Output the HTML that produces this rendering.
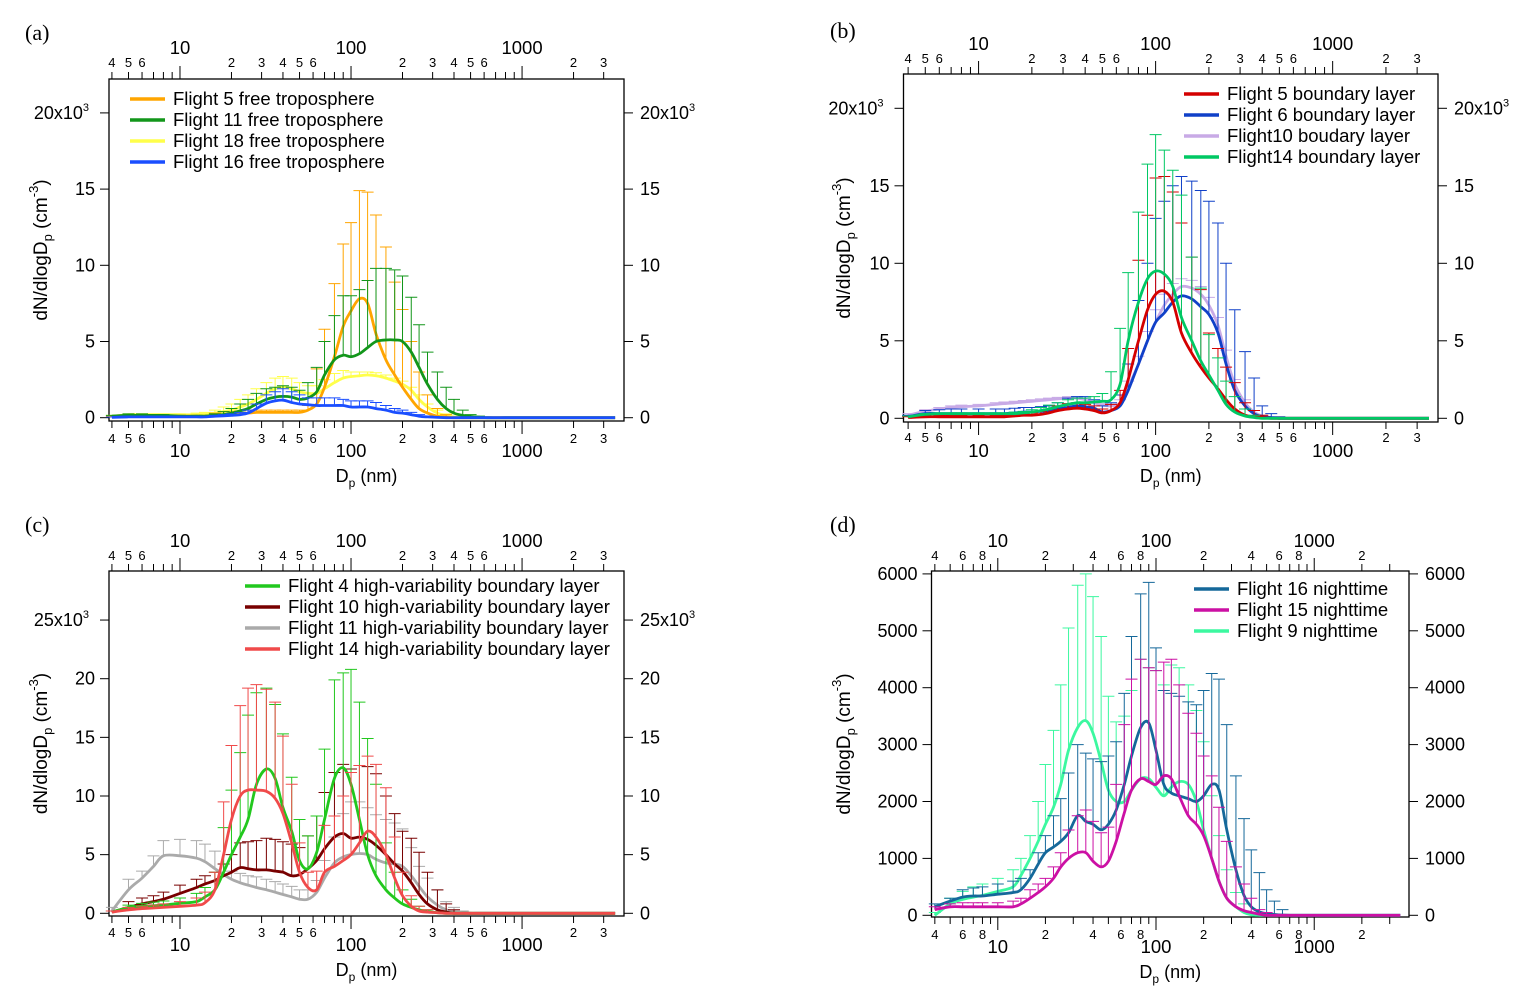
<!DOCTYPE html>
<html><head><meta charset="utf-8"><style>
body{margin:0;background:#fff}
svg text{font-family:"Liberation Sans",Arial,sans-serif;fill:#000}
</style></head><body>
<svg id="chart" width="1527" height="1003" viewBox="0 0 1527 1003" xmlns="http://www.w3.org/2000/svg"></svg>
<script>
// Shared diameter grid (nm)
const D=[4,5,6,7,8,10,12.5,14,16,18,20,22.5,25,28,32,36,40,45,50,56,63,70,80,90,100,112,125,140,160,180,200,225,250,280,320,360,400,450,500,560,630,800,1000,2000,3500];
// Panel a (x10^3 cm-3)
const a5=[0.05,0.1,0.1,0.1,0.1,0.1,0.1,0.1,0.15,0.2,0.2,0.25,0.3,0.35,0.35,0.35,0.35,0.35,0.35,0.5,0.9,2.0,4.0,6.0,7.0,7.8,7.5,5.5,3.8,2.8,2.0,1.2,0.6,0.3,0.1,0.05,0,0,0,0,0,0,0,0,0];
const a5err=[0.1,0.15,0.15,0.15,0.15,0.15,0.15,0.15,0.3,0.4,0.4,0.45,0.5,0.5,0.5,0.5,0.5,0.5,0.5,0.8,3.2,5.8,8.8,11.4,12.8,14.9,14.8,13.3,11.2,8.9,7.1,5.0,3.0,1.5,0.6,0.2,0.05,0,0,0,0,0,0,0,0];
const a11=[0.1,0.15,0.15,0.15,0.15,0.1,0.1,0.1,0.15,0.2,0.3,0.45,0.6,0.9,1.2,1.35,1.4,1.35,1.2,1.3,1.7,2.8,3.8,4.1,4.0,4.2,4.6,5.0,5.1,5.1,5.0,4.3,3.3,2.2,1.2,0.6,0.3,0.15,0.08,0.03,0,0,0,0,0];
const a11err=[0.15,0.25,0.25,0.2,0.2,0.15,0.15,0.15,0.25,0.4,0.6,0.9,1.2,1.6,1.9,2.0,2.1,2.0,1.8,2.3,3.3,5.0,6.7,8.0,8.0,8.4,9.0,9.8,9.8,9.7,9.3,7.9,6.1,4.3,3.0,2.0,1.2,0.5,0.2,0.1,0,0,0,0,0];
const a18=[0.1,0.2,0.2,0.2,0.2,0.2,0.2,0.25,0.3,0.4,0.5,0.7,0.9,1.2,1.6,1.9,2.0,1.9,1.7,1.6,1.6,1.9,2.3,2.6,2.7,2.75,2.8,2.75,2.6,2.4,2.2,1.8,1.2,0.7,0.3,0.15,0.05,0,0,0,0,0,0,0,0];
const a18err=[0.15,0.25,0.25,0.25,0.25,0.25,0.3,0.35,0.5,0.7,0.9,1.2,1.5,1.9,2.3,2.6,2.7,2.6,2.3,2.1,2.1,2.5,2.9,3.1,3.0,3.0,3.0,2.95,2.8,2.6,2.4,2.0,1.5,0.9,0.5,0.25,0.1,0,0,0,0,0,0,0,0];
const a16=[0.02,0.05,0.05,0.05,0.05,0.05,0.05,0.05,0.1,0.12,0.15,0.2,0.3,0.6,0.95,1.1,1.15,1.0,0.9,0.85,0.8,0.8,0.8,0.8,0.7,0.7,0.7,0.6,0.5,0.35,0.3,0.2,0.1,0.05,0.02,0,0,0,0,0,0,0,0,0,0];
const a16err=[0.05,0.1,0.1,0.1,0.1,0.1,0.1,0.1,0.15,0.2,0.25,0.35,0.5,0.9,1.5,1.7,1.9,1.7,1.5,1.3,1.3,1.3,1.3,1.2,1.1,1.1,1.1,1.0,0.8,0.6,0.5,0.35,0.2,0.1,0.05,0,0,0,0,0,0,0,0,0,0];
// Panel b
const b5=[0.05,0.1,0.1,0.1,0.1,0.1,0.1,0.1,0.15,0.2,0.2,0.25,0.35,0.5,0.6,0.65,0.6,0.5,0.35,0.5,1.0,2.5,5.0,7.0,8.0,8.2,7.5,5.5,4.2,3.3,2.6,1.9,1.2,0.6,0.2,0.1,0.05,0,0,0,0,0,0,0,0];
const b5err=[0.1,0.2,0.2,0.2,0.2,0.2,0.2,0.2,0.25,0.3,0.35,0.45,0.6,0.8,0.95,1.0,0.9,0.8,0.6,0.9,1.8,4.5,10.2,13.1,15.5,15.6,14.6,12.6,10.4,8.3,5.5,4.5,3.3,2.3,1.0,0.5,0.2,0,0,0,0,0,0,0,0];
const b6=[0.1,0.3,0.3,0.3,0.3,0.3,0.3,0.3,0.35,0.4,0.4,0.45,0.5,0.6,0.7,0.8,0.75,0.65,0.4,0.5,0.8,1.8,3.5,5.0,6.2,6.8,7.5,7.9,7.7,7.2,6.7,5.5,3.5,1.8,0.8,0.3,0.1,0.05,0,0,0,0,0,0,0];
const b6err=[0.2,0.5,0.55,0.6,0.6,0.6,0.6,0.6,0.65,0.7,0.7,0.75,0.8,1.0,1.3,1.4,1.4,1.2,0.8,1.0,1.5,3.5,7.6,10.0,12.9,14.0,15.0,15.6,15.3,14.7,14.0,12.6,10.0,7.0,4.3,2.6,0.8,0.3,0.1,0,0,0,0,0,0];
const b10=[0.2,0.45,0.6,0.7,0.75,0.8,0.9,0.95,1.0,1.05,1.1,1.15,1.2,1.25,1.3,1.3,1.2,1.0,0.85,0.8,1.0,2.0,3.5,5.0,6.2,7.3,8.0,8.5,8.4,8.0,7.3,6.0,4.0,2.2,1.0,0.4,0.15,0.05,0,0,0,0,0,0,0];
const b10err=[0.3,0.55,0.7,0.8,0.85,0.9,1.0,1.05,1.1,1.15,1.2,1.25,1.3,1.35,1.4,1.4,1.3,1.1,0.95,0.9,1.2,2.4,4.0,5.6,7.0,8.0,8.7,9.0,8.9,8.5,7.8,6.5,4.4,2.5,1.2,0.5,0.2,0.05,0,0,0,0,0,0,0];
const b14=[0.1,0.25,0.3,0.3,0.3,0.3,0.3,0.3,0.3,0.35,0.4,0.5,0.6,0.75,0.9,1.0,1.0,1.05,1.1,1.2,2.2,5.0,7.5,9.0,9.5,9.3,8.5,6.5,5.0,3.7,2.8,1.8,0.9,0.4,0.15,0.05,0,0,0,0,0,0,0,0,0];
const b14err=[0.15,0.3,0.35,0.35,0.35,0.35,0.35,0.35,0.4,0.45,0.55,0.7,0.85,1.0,1.2,1.3,1.3,1.4,1.6,3.0,5.8,9.4,13.3,16.4,18.3,17.3,16.0,14.4,10.4,8.4,5.4,3.9,2.4,1.4,0.6,0.2,0.05,0,0,0,0,0,0,0,0];
// Panel c
const c4=[0.1,0.5,0.6,0.65,0.7,0.85,1.0,1.4,2.0,3.5,5.0,6.5,8.0,11.0,12.3,11.5,9.0,7.0,4.5,3.8,5.2,8.0,11.5,12.4,11.0,8.0,5.0,3.2,2.0,1.3,0.8,0.5,0.3,0.15,0.05,0,0,0,0,0,0,0,0,0,0];
const c4err=[0.2,0.7,0.85,0.95,1.05,1.3,1.7,2.2,3.5,7.3,10.5,13.7,16.9,18.8,19.2,17.8,15.3,11.6,8.0,6.6,8.3,14.0,19.9,20.5,20.8,18.0,14.9,11.0,6.0,3.5,2.0,1.2,0.6,0.3,0.1,0,0,0,0,0,0,0,0,0,0];
const c10=[0.1,0.5,0.8,1.0,1.2,1.7,2.2,2.5,2.8,3.2,3.5,3.9,3.8,3.7,3.7,3.6,3.5,3.2,3.3,3.8,4.5,5.5,6.5,6.8,6.4,6.5,6.3,5.8,5.0,4.2,3.6,2.6,1.6,0.8,0.3,0.1,0,0,0,0,0,0,0,0,0];
const c10err=[0.2,1.0,1.3,1.5,1.8,2.4,2.9,3.2,3.5,4.2,5.0,6.0,6.1,6.2,6.4,6.3,6.1,5.9,5.6,6.6,8.3,10.3,12.0,12.7,12.3,12.6,12.5,11.9,10.0,8.5,7.0,6.4,5.2,3.5,2.0,0.8,0.3,0,0,0,0,0,0,0,0];
const c11=[0.2,2.0,3.0,4.0,4.9,4.9,4.7,4.4,3.8,3.3,2.9,2.6,2.4,2.2,2.0,1.8,1.6,1.4,1.2,1.2,1.8,3.0,4.3,4.8,5.0,5.1,5.0,4.6,4.3,4.2,4.0,3.2,2.3,1.4,0.7,0.3,0.15,0.05,0,0,0,0,0,0,0];
const c11err=[0.5,2.9,3.6,4.9,6.2,6.3,6.2,5.9,5.3,4.2,3.6,3.4,3.2,3.1,2.9,2.7,2.5,2.3,2.0,2.0,2.8,4.5,6.5,8.5,9.5,9.5,9.0,8.4,8.0,7.7,7.2,5.6,4.0,3.0,2.0,1.0,0.5,0.2,0,0,0,0,0,0,0];
const c14=[0.1,0.3,0.4,0.45,0.5,0.6,0.7,0.9,2.0,5.0,8.0,10.0,10.5,10.5,10.4,9.8,8.5,6.0,3.5,2.2,2.0,3.5,4.0,4.5,5.0,6.0,7.0,6.5,5.0,3.0,1.5,0.6,0.2,0.1,0.05,0,0,0,0,0,0,0,0,0,0];
const c14err=[0.2,0.5,0.6,0.7,0.8,1.0,1.3,1.8,3.5,9.5,14.3,17.7,19.2,19.5,19.1,18.0,15.1,11.0,6.0,3.5,3.6,7.5,8.3,10.0,12.0,12.6,13.4,12.7,10.7,6.5,3.5,1.5,0.6,0.3,0.1,0,0,0,0,0,0,0,0,0,0];
// Panel d (cm-3)
const d16=[150,250,320,340,340,370,400,450,650,900,1100,1200,1300,1450,1750,1650,1600,1500,1600,1850,2300,2800,3300,3380,2900,2300,2150,2100,2050,2000,2100,2300,2200,1500,800,350,150,60,30,15,5,0,0,0,0];
const d16err=[200,300,450,480,500,550,600,650,800,1100,1400,1750,2050,2500,3000,2850,2750,2700,2800,3050,3900,4900,5650,5850,4700,3950,3900,3850,3750,3700,3950,4250,4150,3350,2450,1700,1150,750,450,250,100,0,0,0,0];
const d15=[100,150,150,150,150,150,150,200,300,400,500,650,850,1000,1100,1100,950,850,950,1300,1800,2200,2400,2350,2300,2450,2400,2100,1750,1600,1400,1000,600,300,150,80,50,20,0,0,0,0,0,0,0];
const d15err=[150,200,220,220,220,220,250,300,450,550,650,850,1100,1500,1750,1850,1650,1450,1550,2300,3350,4150,4500,4350,4300,4450,4500,4050,3550,3200,2800,2450,1900,1300,850,550,300,100,50,0,0,0,0,0,0];
const d9=[0,200,280,320,350,420,500,700,1000,1300,1600,1900,2300,2900,3300,3420,3200,2700,2200,2000,2000,2200,2400,2400,2250,2100,2250,2350,2300,2000,1500,1000,600,300,150,50,10,0,0,0,0,0,0,0,0];
const d9err=[50,300,420,500,550,650,800,1000,1400,2000,2650,3250,4050,5050,5800,6000,5600,4900,3850,3400,3500,3950,4500,4350,4300,4050,4400,4350,4050,3600,3050,2100,1400,800,400,200,50,0,0,0,0,0,0,0,0];
const yTicksK20=[0,5,10,15,20];
const yTicksK25=[0,5,10,15,20,25];
const yTicksD=[0,1000,2000,3000,4000,5000,6000];

const NS='http://www.w3.org/2000/svg';
const svg=document.getElementById('chart');
function mk(tag,attrs,parent){const e=document.createElementNS(NS,tag);for(const k in attrs)e.setAttribute(k,attrs[k]);(parent||svg).appendChild(e);return e;}

function crPath(pts){
  let s='M'+pts[0][0].toFixed(1)+','+pts[0][1].toFixed(1);
  for(let i=0;i<pts.length-1;i++){
    const p0=pts[i-1]||pts[i],p1=pts[i],p2=pts[i+1],p3=pts[i+2]||p2;
    const c1=[p1[0]+(p2[0]-p0[0])/6,p1[1]+(p2[1]-p0[1])/6];
    const c2=[p2[0]-(p3[0]-p1[0])/6,p2[1]-(p3[1]-p1[1])/6];
    s+='C'+c1[0].toFixed(1)+','+c1[1].toFixed(1)+' '+c2[0].toFixed(1)+','+c2[1].toFixed(1)+' '+p2[0].toFixed(1)+','+p2[1].toFixed(1);
  }
  return s;
}

const panels=[
 {id:'a',label:'(a)',lx:25,ly:40,x0:109,x1:624,lmin:0.585,lmax:3.596,top:79,bot:421,zero:417.7,py:15.24,ticks:yTicksK20,sup:true,
  minorLab:[2,3,4,5,6],topMaj:54,topMin:67,botMin:443,botMaj:457,title:482,ytx:47,
  leg:{x:130,y:99},
  series:[{n:'flight-5-free-troposphere',t:'Flight 5 free troposphere',c:'#ffa500',v:a5,e:a5err},
          {n:'flight-11-free-troposphere',t:'Flight 11 free troposphere',c:'#12961a',v:a11,e:a11err},
          {n:'flight-18-free-troposphere',t:'Flight 18 free troposphere',c:'#ffff4a',v:a18,e:a18err},
          {n:'flight-16-free-troposphere',t:'Flight 16 free troposphere',c:'#1a4eff',v:a16,e:a16err}],
  order:[2,0,1,3]},
 {id:'b',label:'(b)',lx:830,ly:38,x0:903.5,x1:1438,lmin:0.576,lmax:3.595,top:74,bot:422,zero:418.3,py:15.5,ticks:yTicksK20,sup:true,
  minorLab:[2,3,4,5,6],topMaj:50,topMin:63,botMin:442,botMaj:457,title:482,ytx:850,
  leg:{x:1184,y:94},
  series:[{n:'flight-5-boundary-layer',t:'Flight 5 boundary layer',c:'#d40000',v:b5,e:b5err},
          {n:'flight-6-boundary-layer',t:'Flight 6 boundary layer',c:'#1040c8',v:b6,e:b6err},
          {n:'flight-10-boundary-layer',t:'Flight10 boudary layer',c:'#c8aae6',v:b10,e:b10err},
          {n:'flight-14-boundary-layer',t:'Flight14 boundary layer',c:'#00c864',v:b14,e:b14err}],
  order:[2,1,0,3]},
 {id:'c',label:'(c)',lx:25,ly:532,x0:109,x1:624,lmin:0.585,lmax:3.596,top:571,bot:916,zero:913.3,py:11.73,ticks:yTicksK25,sup:true,
  minorLab:[2,3,4,5,6],topMaj:547,topMin:560,botMin:937,botMaj:951,title:976,ytx:47,
  leg:{x:245,y:586},
  series:[{n:'flight-4-high-variability',t:'Flight 4  high-variability boundary layer',c:'#22c81e',v:c4,e:c4err},
          {n:'flight-10-high-variability',t:'Flight 10  high-variability boundary layer',c:'#780000',v:c10,e:c10err},
          {n:'flight-11-high-variability',t:'Flight 11  high-variability boundary layer',c:'#aaaaaa',v:c11,e:c11err},
          {n:'flight-14-high-variability',t:'Flight 14  high-variability boundary layer',c:'#f04a4a',v:c14,e:c14err}],
  order:[2,1,0,3]},
 {id:'d',label:'(d)',lx:830,ly:532,x0:931.5,x1:1409,lmin:0.581,lmax:3.599,top:571,bot:917,zero:915.3,py:0.0569,ticks:yTicksD,sup:false,
  minorLab:[2,4,6,8],topMaj:547,topMin:560,botMin:939,botMaj:953,title:978,ytx:850,
  leg:{x:1194,y:589},
  series:[{n:'flight-16-nighttime',t:'Flight 16 nighttime',c:'#15689a',v:d16,e:d16err},
          {n:'flight-15-nighttime',t:'Flight 15 nighttime',c:'#cc10a4',v:d15,e:d15err},
          {n:'flight-9-nighttime',t:'Flight 9 nighttime',c:'#3cf8a0',v:d9,e:d9err}],
  order:[2,0,1]}
];

panels.forEach(P=>{
  const g=mk('g',{});
  
  
  const X=d=>P.x0+(Math.log10(d)-P.lmin)/(P.lmax-P.lmin)*(P.x1-P.x0);
  const Y=v=>P.zero-v*P.py;
  const pl=mk('text',{x:P.lx,y:P.ly,'font-size':22,style:'font-family:"Liberation Serif",serif'},g);
  
  
  pl.textContent=P.label;
  const fr=mk('rect',{x:P.x0,y:P.top,width:P.x1-P.x0,height:P.bot-P.top,fill:'none',stroke:'#000','stroke-width':1.3},g);
  
  
  for(let dec=0;dec<=3;dec++){
    for(let m=1;m<=9;m++){
      const v=m*Math.pow(10,dec);
      const lv=Math.log10(v);
      if(lv<P.lmin||lv>P.lmax)continue;
      const x=X(v);const major=(m===1);const len=major?13:7;
      const t1=mk('line',{x1:x,x2:x,y1:P.top,y2:P.top-len,stroke:'#000','stroke-width':1},g);
      
      
      const t2=mk('line',{x1:x,x2:x,y1:P.bot,y2:P.bot+len,stroke:'#000','stroke-width':1},g);
      
      
      let lab=null,size=13,ty1=P.topMin,ty2=P.botMin;
      if(major){lab=String(v);size=18.5;ty1=P.topMaj;ty2=P.botMaj;}
      else if(P.minorLab.indexOf(m)>=0 || (dec===0 && P.minorLab.length===5 && m>=4 && m<=6) || (dec===0 && P.minorLab.length===4 && (m===4||m===6||m===8))) lab=String(m);
      if(lab){
        const l1=mk('text',{x:x,y:ty1,'font-size':size,'text-anchor':'middle'},g);
        
        
        l1.textContent=lab;
        const l2=mk('text',{x:x,y:ty2,'font-size':size,'text-anchor':'middle'},g);
        
        
        l2.textContent=lab;
      }
    }
  }
  P.ticks.forEach((v,i)=>{
    const y=Y(v);
    const tl=mk('line',{x1:P.x0,x2:P.x0-9,y1:y,y2:y,stroke:'#000','stroke-width':1},g);
    
    
    const tr=mk('line',{x1:P.x1,x2:P.x1+9,y1:y,y2:y,stroke:'#000','stroke-width':1},g);
    
    
    const last=(P.sup&&i===P.ticks.length-1);
    const ll=mk('text',{x:P.x0-14-(last?6:0),y:y+6,'font-size':18,'text-anchor':'end'},g);
    
    
    const lr=mk('text',{x:P.x1+16,y:y+6,'font-size':18,'text-anchor':'start'},g);
    
    
    [ll,lr].forEach(el=>{
      if(last){
        const a=mk('tspan',{},el);a.textContent=v+'x10';
        const b=mk('tspan',{dy:-8,'font-size':11},el);b.textContent='3';
      } else el.textContent=String(v);
    });
  });
  const cy=(P.top+P.bot)/2;
  const yt=mk('text',{x:0,y:0,'font-size':19,'text-anchor':'middle',transform:'translate('+P.ytx+','+cy+') rotate(-90)'},g);
  
  
  const s1=mk('tspan',{},yt);s1.textContent='dN/dlogD';
  const s2=mk('tspan',{dy:5,'font-size':13},yt);s2.textContent='p';
  const s3=mk('tspan',{dy:-5},yt);s3.textContent=' (cm';
  const s4=mk('tspan',{dy:-9,'font-size':13},yt);s4.textContent='-3';
  const s5=mk('tspan',{dy:9},yt);s5.textContent=')';
  const xt=mk('text',{x:(P.x0+P.x1)/2,y:P.title,'font-size':18,'text-anchor':'middle'},g);
  
  
  const u1=mk('tspan',{},xt);u1.textContent='D';
  const u2=mk('tspan',{dy:5,'font-size':12},xt);u2.textContent='p';
  const u3=mk('tspan',{dy:-5},xt);u3.textContent=' (nm)';
  P.order.forEach(si=>{
    const S=P.series[si];
    const sg=mk('g',{},g);
    
    
    D.forEach((d,i)=>{
      const v=S.v[i]||0,e=S.e[i]||0;
      if(e<=v)return;
      const x=X(d);
      const eb=mk('path',{d:'M'+x+','+Y(v)+'V'+Y(e)+'M'+(x-6)+','+Y(e)+'H'+(x+6),stroke:S.c,'stroke-width':1,fill:'none'},sg);
      
      
    });
    const pts=D.map((d,i)=>[X(d),Y(S.v[i]||0)]).filter(p=>p[0]>=P.x0-1&&p[0]<=P.x1+1);
    const ln=mk('path',{d:crPath(pts),stroke:S.c,'stroke-width':2.8,fill:'none','stroke-linejoin':'round'},sg);
    
    
  });
  P.series.forEach((S,i)=>{
    const y=P.leg.y+i*21;
    const lg=mk('g',{},g);
    
    
    mk('line',{x1:P.leg.x,x2:P.leg.x+35,y1:y,y2:y,stroke:S.c,'stroke-width':3.5},lg);
    const lt=mk('text',{x:P.leg.x+43,y:y+6,'font-size':18.5},lg);
    
    
    lt.textContent=S.t;
  });
});
</script>
</body></html>
